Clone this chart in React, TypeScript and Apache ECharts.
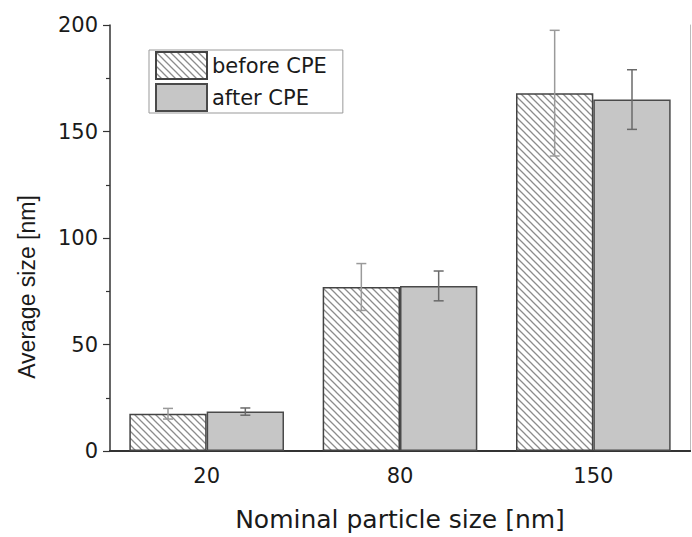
import React, { useEffect, useRef } from "react";
import * as echarts from "echarts";

const categories = ["20", "80", "150"];
const beforeValues = [17.5, 77, 168];
const afterValues = [18.5, 77.5, 165];
const beforeErrors = [2.5, 11, 29.5];
const afterErrors = [1.7, 7, 14];
const seriesNames = ["before CPE", "after CPE"];
const yTicks = { min: 0, max: 200, interval: 50 };

function makeHatch(): HTMLCanvasElement {
  const c = document.createElement("canvas");
  const s = 7;
  c.width = s;
  c.height = s;
  const ctx = c.getContext("2d")!;
  ctx.fillStyle = "#ffffff";
  ctx.fillRect(0, 0, s, s);
  ctx.strokeStyle = "#8c8c8c";
  ctx.lineWidth = 1.3;
  ctx.beginPath();
  ctx.moveTo(-1, -1);
  ctx.lineTo(s + 1, s + 1);
  ctx.moveTo(-1, s - 1);
  ctx.lineTo(1, s + 1);
  ctx.moveTo(s - 1, -1);
  ctx.lineTo(s + 1, 1);
  ctx.stroke();
  return c;
}

export default function App() {
  const ref = useRef<HTMLDivElement>(null);
  useEffect(() => {
    if (!ref.current) return;
    const chart = echarts.init(ref.current, null, { renderer: "svg" });
    const hatch = makeHatch();
    const hatchFill: any = { image: hatch, repeat: "repeat" };

    const errData = (vals: number[], errs: number[]) =>
      vals.map((v, i) => [i, v - errs[i], v + errs[i]]);

    const makeErr = (name: string, vals: number[], errs: number[], sign: number, color: string) => ({
      type: "custom",
      name: name + " err",
      z: 5,
      data: errData(vals, errs),
      encode: { x: 0, y: [1, 2] },
      renderItem: (params: any, api: any) => {
        const idx = api.value(0);
        const lo = api.coord([idx, api.value(1)]);
        const hi = api.coord([idx, api.value(2)]);
        const band = api.size([1, 0])[0];
        const x = lo[0] + sign * band * 0.2;
        const cap = 5;
        const st = { stroke: color, lineWidth: 1.5 };
        return {
          type: "group",
          children: [
            { type: "line", shape: { x1: x, y1: lo[1], x2: x, y2: hi[1] }, style: st },
            { type: "line", shape: { x1: x - cap, y1: lo[1], x2: x + cap, y2: lo[1] }, style: st },
            { type: "line", shape: { x1: x - cap, y1: hi[1], x2: x + cap, y2: hi[1] }, style: st },
          ],
        };
      },
    });

    const hFont = "DejaVu Sans";
    const txt = "#1a1a1a";
    chart.setOption({
      animation: false,
      backgroundColor: "#ffffff",
      grid: { left: 110, top: 25, right: 2, bottom: 84 },
      legend: {
        data: seriesNames,
        orient: "vertical",
        left: 149,
        top: 50,
        icon: "rect",
        itemWidth: 51,
        itemHeight: 27,
        itemGap: 3,
        padding: [1, 16, 1, 6],
        borderColor: "#999",
        borderWidth: 1,
        textStyle: { fontFamily: hFont, fontSize: 21, color: txt },
      },
      xAxis: [
        {
          type: "category",
          data: categories,
          position: "bottom",
          axisLine: { lineStyle: { color: "#333", width: 2 } },
          axisTick: { alignWithLabel: true, length: 8, lineStyle: { color: "#333", width: 1.5 } },
          axisLabel: { fontFamily: hFont, fontSize: 21, color: txt, margin: 14 },
          name: "Nominal particle size [nm]",
          nameLocation: "middle",
          nameGap: 56,
          nameTextStyle: { fontFamily: hFont, fontSize: 25, color: txt },
        },
        {
          type: "category",
          data: categories,
          position: "top",
          axisLine: { lineStyle: { color: "#333", width: 2 } },
          axisTick: { show: false },
          axisLabel: { show: false },
        },
      ],
      yAxis: [
        {
          type: "value",
          min: yTicks.min,
          max: yTicks.max,
          interval: yTicks.interval,
          axisLine: { show: true, lineStyle: { color: "#333", width: 1.5 } },
          axisTick: { show: true, length: 7, lineStyle: { color: "#333", width: 1.2 } },
          minorTick: { show: true, splitNumber: 2, length: 4, lineStyle: { color: "#333", width: 1.2 } },
          splitLine: { show: false },
          axisLabel: { fontFamily: hFont, fontSize: 21, color: txt, margin: 12 },
          name: "Average size [nm]",
          nameLocation: "middle",
          nameGap: 72,
          nameTextStyle: {
            fontFamily: "Liberation Sans",
            fontSize: 23,
            color: txt,
            padding: [0, 98, 0, 0],
          },
        },
        {
          type: "value",
          position: "right",
          min: yTicks.min,
          max: yTicks.max,
          interval: yTicks.interval,
          axisLine: { show: true, lineStyle: { color: "#bbb", width: 1 } },
          axisTick: { show: false },
          axisLabel: { show: false },
          splitLine: { show: false },
        },
      ],
      series: [
        {
          type: "bar",
          name: seriesNames[0],
          data: beforeValues,
          barWidth: "40%",
          barGap: "0%",
          itemStyle: { color: hatchFill, borderColor: "#444", borderWidth: 1.5 },
        },
        {
          type: "bar",
          name: seriesNames[1],
          data: afterValues,
          barWidth: "40%",
          barGap: "0%",
          itemStyle: { color: "#c6c6c6", borderColor: "#4a4a4a", borderWidth: 1.5 },
        },
        makeErr(seriesNames[0], beforeValues, beforeErrors, -1, "#9a9a9a"),
        makeErr(seriesNames[1], afterValues, afterErrors, 1, "#6a6a6a"),
      ],
    });
    return () => chart.dispose();
  }, []);
  return <div ref={ref} style={{ width: 692, height: 537, position: "absolute", left: 0, top: 0 }} />;
}
